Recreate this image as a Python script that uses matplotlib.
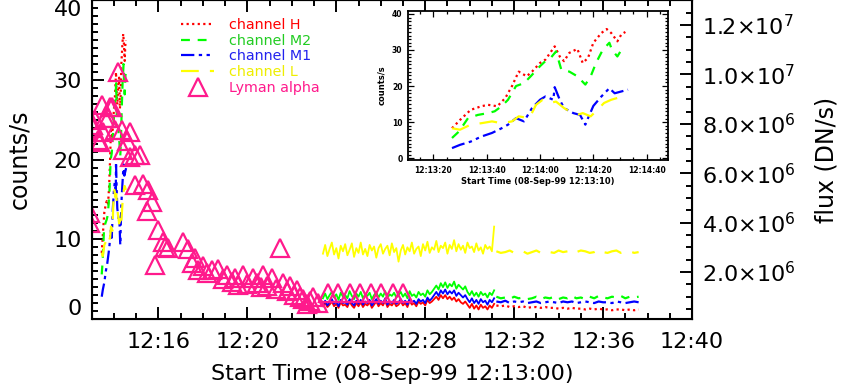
import numpy as np
import matplotlib.pyplot as plt
from matplotlib.ticker import MultipleLocator, FuncFormatter

# ---- first burst (seconds after 12:13:00), shown in the inset and the main panel
t_h = [27, 30, 34, 38, 40.5, 44, 47, 49.5, 52, 55, 57, 60, 62, 65.5, 67.4, 69, 71, 74, 76, 78, 80, 83, 85, 86.7, 89, 90.5, 92]
v_h = [8.3, 10.6, 13.4, 14.4, 14.8, 14.4, 16.7, 20.0, 24.0, 22.7, 24.0, 26.4, 27.3, 31.0, 28.2, 26.9, 29.2, 30.3, 26.4, 27.8, 32.0, 34.7, 35.8, 34.7, 32.4, 34.3, 35.0]
t_m2 = [27, 29.6, 33, 36.7, 40.5, 43, 45.6, 48, 51, 54, 56.5, 60, 62, 64, 66, 68, 71, 74, 77, 79, 81, 83.5, 86, 87, 89, 91, 92]
v_m2 = [5.6, 7.4, 11.1, 12.0, 12.5, 13.0, 14.4, 16.2, 20.0, 20.8, 22.7, 25.5, 26.9, 27.8, 29.6, 24.5, 24.0, 22.7, 20.4, 22.7, 26.4, 30.0, 32.0, 30.0, 28.2, 30.6, 30.8]
t_m1 = [27, 30, 34, 38, 42, 45.6, 48, 51, 54, 57, 60, 62, 65, 65.5, 67.4, 69, 72.5, 75, 77, 78, 80, 83, 86, 88, 90.5, 93]
v_m1 = [2.8, 3.7, 4.6, 6.0, 7.0, 8.3, 9.3, 11.1, 10.2, 13.9, 16.2, 17.1, 16.2, 19.7, 16.2, 13.9, 12.5, 12.0, 9.3, 11.1, 14.5, 17.1, 19.4, 18.0, 18.5, 19.0]
t_l = [27, 30, 34, 38, 42, 45.6, 49.5, 52, 56, 58.5, 61, 63.6, 66, 69, 71, 74, 76, 79, 81.5, 84, 86.7, 89, 92]
v_l = [8.3, 7.9, 9.3, 9.7, 10.2, 9.7, 10.2, 11.6, 11.1, 14.8, 16.2, 15.3, 15.7, 13.9, 13.0, 12.0, 12.5, 11.6, 13.4, 15.3, 16.2, 16.7, 16.2]

# ---- later pointing (minutes after 12:13:00): dense part then sparse part
dense_start, dense_step = 10.4, 0.1
h_dense = [1.6, 2.0, 1.5, 1.8, 2.2, 1.6, 1.9, 1.4, 2.1, 1.7, 1.8, 1.5, 2.2, 1.7, 1.4, 2.0, 1.6, 2.1, 1.5, 1.9,
           1.7, 2.1, 1.4, 1.8, 2.2, 1.6, 2.0, 1.7, 2.3, 1.5, 1.9, 1.7, 2.1, 1.6, 1.8, 2.2, 1.7, 2.0, 1.5, 2.3,
           1.8, 2.0, 1.6, 2.2, 1.9, 2.1, 1.7, 2.4, 2.0, 2.2, 2.5, 2.8, 2.4, 3.0, 2.6, 3.0, 2.5, 2.8, 2.4, 2.7,
           2.2, 2.5, 2.1, 1.9, 2.2, 1.8, 1.4, 1.9, 1.3, 1.7, 1.2, 1.8, 1.4, 1.6, 1.2, 1.7, 1.4, 1.9]
m2_dense = [2.6, 3.2, 2.5, 3.0, 3.4, 2.7, 3.1, 2.4, 3.3, 2.8, 3.0, 2.6, 3.5, 2.9, 2.5, 3.2, 2.8, 3.4, 2.6, 3.1,
            2.9, 3.3, 2.5, 3.0, 3.4, 2.7, 3.2, 2.8, 3.5, 2.6, 3.1, 2.9, 3.3, 2.7, 3.0, 3.4, 2.8, 3.2, 2.6, 3.5,
            2.9, 3.1, 2.7, 3.4, 3.0, 3.2, 2.8, 3.6, 3.1, 3.4, 3.8, 4.2, 3.7, 4.5, 4.0, 4.6, 3.9, 4.4, 4.1, 4.7,
            3.8, 4.3, 4.0, 3.7, 4.1, 3.4, 3.0, 3.5, 2.9, 3.3, 2.8, 3.4, 3.0, 3.2, 2.7, 3.3, 3.0, 3.6]
m1_dense = [1.8, 2.3, 1.7, 2.1, 2.5, 1.9, 2.2, 1.6, 2.4, 2.0, 2.1, 1.8, 2.5, 2.0, 1.7, 2.3, 1.9, 2.4, 1.8, 2.2,
            2.0, 2.4, 1.7, 2.1, 2.5, 1.9, 2.3, 2.0, 2.6, 1.8, 2.2, 2.0, 2.4, 1.9, 2.1, 2.5, 2.0, 2.3, 1.8, 2.6,
            2.1, 2.3, 1.9, 2.5, 2.2, 2.4, 2.0, 2.7, 2.3, 2.6, 3.0, 3.4, 2.9, 3.6, 3.2, 3.7, 3.1, 3.5, 3.2, 3.6,
            2.9, 3.3, 3.0, 2.7, 3.0, 2.5, 2.1, 2.6, 2.0, 2.4, 1.9, 2.5, 2.1, 2.3, 1.8, 2.4, 2.1, 2.6]
l_dense = [8.2, 9.3, 7.9, 8.8, 9.6, 8.1, 8.9, 7.6, 9.2, 8.5, 9.4, 8.0, 8.7, 9.5, 7.8, 8.9, 8.3, 9.6, 8.1, 8.8,
           7.9, 9.3, 8.6, 9.1, 7.7, 8.9, 9.4, 8.2, 8.8, 9.2, 8.0, 9.5, 8.4, 8.9, 7.2, 8.6, 9.3, 8.1, 9.0, 8.5,
           9.6, 8.2, 8.8, 9.1, 7.9, 9.4, 8.6, 9.7, 8.3, 9.0, 8.7, 9.8, 8.4, 9.2, 8.9, 9.6, 8.2, 9.3, 8.8, 9.9,
           8.5, 9.4, 8.7, 9.2, 8.3, 9.6, 8.9, 9.1, 8.4, 9.5, 8.6, 9.0, 8.2, 9.3, 8.8, 9.1, 8.5, 11.6]

sparse_start, sparse_step = 18.2, 0.2
h_sparse = [1.7, 1.6, 1.7, 1.5, 1.6, 1.5, 1.6, 1.4, 1.5, 1.5, 1.4, 1.5, 1.4, 1.4, 1.3, 1.4, 1.3, 1.4, 1.3, 1.3,
            1.2, 1.3, 1.2, 1.3, 1.2, 1.2, 1.1, 1.2, 1.2, 1.1, 1.2, 1.1, 1.2]
m2_sparse = [2.8, 2.6, 2.7, 2.5, 2.8, 2.6, 2.7, 2.5, 2.6, 2.8, 2.5, 2.7, 2.6, 2.8, 2.5, 2.7, 2.6, 2.9, 2.6, 2.7,
             2.5, 2.8, 2.6, 2.9, 2.7, 2.6, 2.8, 2.7, 2.9, 2.6, 2.8, 2.7, 2.8]
m1_sparse = [2.2, 2.1, 2.3, 2.0, 2.2, 2.1, 2.2, 2.0, 2.1, 2.2, 2.0, 2.1, 2.2, 2.1, 2.0, 2.2, 2.1, 2.2, 2.0, 2.1,
             2.2, 2.1, 2.0, 2.2, 2.1, 2.1, 2.0, 2.2, 2.1, 2.0, 2.1, 2.2, 2.1]
l_sparse = [8.5, 8.3, 8.4, 8.6, 8.3, 8.4, 8.5, 8.2, 8.4, 8.6, 8.3, 8.5, 8.4, 8.3, 8.6, 8.4, 8.5, 8.2, 8.4, 8.6,
            8.5, 8.3, 8.4, 8.7, 8.4, 8.3, 8.5, 8.6, 8.3, 8.4, 8.5, 8.3, 8.4]

# ---- Lyman alpha (minutes after 12:13:00, drawn on the counts/s scale)
lya_t = [-0.08, -0.08, 0.05, 0.07, 0.15, 0.28, 0.37, 0.45, 0.5, 0.6, 0.75, 0.82, 0.9, 1.05, 1.2, 1.35, 1.42,
         1.6, 1.72, 1.72, 1.95, 2.17, 1.95, 2.3, 2.55, 2.7, 2.47, 2.85, 3.0, 3.22, 3.45, 3.3, 4.12, 4.35, 4.5,
         4.65, 4.8, 5.02, 5.2, 5.4, 5.7, 5.9, 6.07, 6.3, 6.45, 6.6, 6.82, 7.0, 7.27, 7.42, 7.6, 7.72, 7.9, 8.1,
         8.3, 8.47, 8.62, 8.8, 8.92, 9.1, 9.22, 9.37, 9.5, 9.7, 9.82, 9.97, 10.2, 10.63, 11.08, 11.6, 12.06,
         12.58, 13.03, 13.55, 14.0]
lya_v = [13.3, 12.0, 24.0, 24.3, 25.0, 22.5, 22.2, 26.9, 23.5, 25.2, 25.2, 26.6, 26.6, 23.7, 31.0, 23.7, 21.2,
         22.3, 23.5, 20.4, 20.6, 20.6, 16.8, 17.0, 16.2, 14.7, 13.5, 6.8, 11.2, 9.7, 8.9, 9.1, 9.7, 8.8, 7.0,
         7.6, 6.2, 6.6, 5.8, 6.1, 6.3, 5.0, 5.5, 4.6, 5.1, 4.3, 5.5, 4.4, 5.1, 4.5, 4.0, 5.5, 4.2, 5.1,
         3.8, 8.9, 4.5, 3.5, 4.1, 3.0, 3.6, 2.8, 2.5, 1.9, 2.2, 2.8, 2.0, 3.3, 3.3, 3.3, 3.3,
         3.3, 3.3, 3.3, 3.3]

count_ticks = [0, 10, 20, 30, 40]

channels = [
    ("channel H", "#ff0000", (0, (1, 1.5)), t_h, v_h, h_dense, h_sparse),
    ("channel M2", "#00ff00", (0, (4, 3.5)), t_m2, v_m2, m2_dense, m2_sparse),
    ("channel M1", "#0000ff", (0, (6, 2, 1.5, 2, 1.5, 2)), t_m1, v_m1, m1_dense, m1_sparse),
    ("channel L", "#ffff00", (0, (8, 5)), t_l, v_l, l_dense, l_sparse),
]
text_colors = ["#ff0000", "#22cc22", "#2222ee", "#eeee00", "#ff1a8c"]
pink = "#ff1a8c"

fig = plt.figure(figsize=(8.47, 3.85), dpi=100)
ax = fig.add_axes([0.1083, 0.1714, 0.7087, 0.8276])

for name, col, ls, t, v, vd, vs in channels:
    ax.plot(np.array(t) / 60.0, v, color=col, ls=ls, lw=1.6, label=name)
    # dense sampling: the dash pattern is lost, it reads as a solid noisy band
    td = dense_start + dense_step * np.arange(len(vd))
    ax.plot(td, vd, color=col, ls="-", lw=1.3)
    ts = sparse_start + sparse_step * np.arange(len(vs))
    ax.plot(ts, vs, color=col, ls=ls, lw=1.6)

ax.plot(lya_t, lya_v, ls="none", marker="^", ms=12.5, mfc="none", mec=pink, mew=1.6,
        label="Lyman alpha")

ax.set_xlim(0, 27)
ax.set_ylim(0, 40)
ax.set_xticks(np.arange(3, 28, 4))
ax.xaxis.set_minor_locator(MultipleLocator(1))
ax.xaxis.set_major_formatter(FuncFormatter(lambda m, p: "12:%02d" % (13 + int(round(m)))))
ax.set_yticks(count_ticks)
ax.yaxis.set_minor_locator(MultipleLocator(1))
ax.tick_params(which="both", direction="in", top=True, width=1.4, labelsize=16)
ax.tick_params(which="major", length=8.5)
ax.tick_params(which="minor", length=4.5)
ax.tick_params(axis="x", pad=9)
ax.tick_params(axis="y", pad=7)
for s in ax.spines.values():
    s.set_linewidth(1.5)
ax.set_xlabel("Start Time (08-Sep-99 12:13:00)", fontsize=16, labelpad=9)
ax.set_ylabel("counts/s", fontsize=17, labelpad=16)

leg = ax.legend(loc="upper left", bbox_to_anchor=(0.128, 0.985), frameon=False, fontsize=10.3,
                handlelength=2.3, handletextpad=1.0, labelspacing=0.12, numpoints=1)
for txt, c in zip(leg.get_texts(), text_colors):
    txt.set_color(c)

# right axis
ax2 = ax.twinx()
ax2.set_ylim(0.1e6, 13.0e6)
ax2.yaxis.set_major_locator(MultipleLocator(2e6))
ax2.yaxis.set_minor_locator(MultipleLocator(0.5e6))


def sci(v, pos):
    if v <= 0:
        return ""
    e = int(np.floor(np.log10(v) + 1e-9))
    return r"$%.1f{\times}10^{%d}$" % (v / 10 ** e, e)


ax2.yaxis.set_major_formatter(FuncFormatter(sci))
ax2.tick_params(which="both", direction="in", width=1.4, labelsize=16, pad=7)
ax2.tick_params(which="major", length=8.5)
ax2.tick_params(which="minor", length=4.5)
ax2.set_ylabel("flux (DN/s)", fontsize=17, labelpad=14)

# inset
axi = fig.add_axes([0.4817, 0.5844, 0.307, 0.387])
for name, col, ls, t, v, vd, vs in channels:
    axi.plot(t, v, color=col, ls=ls, lw=1.6)
axi.set_xlim(10.5, 108)
axi.set_ylim(-0.5, 40.8)
axi.set_xticks([20, 40, 60, 80, 100])
axi.xaxis.set_minor_locator(MultipleLocator(5))
axi.xaxis.set_major_formatter(FuncFormatter(
    lambda s, p: "12:%02d:%02d" % (13 + int(round(s)) // 60, int(round(s)) % 60)))
axi.set_yticks(count_ticks)
axi.yaxis.set_minor_locator(MultipleLocator(1))
axi.tick_params(which="both", direction="in", top=True, right=True, width=0.9, labelsize=5.5, pad=4)
axi.tick_params(which="major", length=4)
axi.tick_params(which="minor", length=2)
for lab in axi.get_xticklabels() + axi.get_yticklabels():
    lab.set_fontweight("bold")
for s in axi.spines.values():
    s.set_linewidth(1.3)
axi.set_xlabel("Start Time (08-Sep-99 12:13:10)", fontsize=6, fontweight="bold", labelpad=2)
axi.set_ylabel("counts/s", fontsize=6, fontweight="bold", labelpad=4)

# keep the end labels of the counts axis inside the frame, as in the original
ylabs = ax.get_yticklabels()
ylabs[-1].set_verticalalignment("top")
ylabs[0].set_verticalalignment("bottom")

fig.savefig("out.png", dpi=100)
